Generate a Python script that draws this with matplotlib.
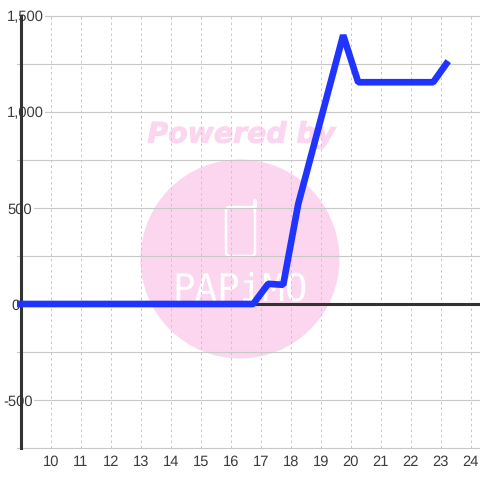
import matplotlib
matplotlib.use("Agg")
import matplotlib.pyplot as plt
import matplotlib.patheffects as pe
from matplotlib.patches import Circle, FancyBboxPatch

hours = [8.75, 16.75, 17.25, 17.75, 18.25, 19.75, 20.25, 22.75, 23.25]
values = [0, 0, 105, 100, 520, 1400, 1155, 1155, 1265]
x_ticks = list(range(10, 25))
y_ticks = [-500, 0, 500, 1000, 1500]
y_labels = ["-500", "0", "500", "1,000", "1,500"]
y_minor = [-750, -250, 250, 750, 1250]

plt.rcParams["font.family"] = ["Liberation Sans", "DejaVu Sans"]
plt.rcParams["text.hinting"] = "no_hinting"
TEXT = "#3c3c3c"
DARK = "#333333"
GRID = "#c8c8c8"
PINK = "#fcd6ee"

fig = plt.figure(figsize=(4.8, 4.8), dpi=100)

# watermark sits behind the chart, drawn in pixel coords
bg = fig.add_axes([0, 0, 1, 1], zorder=0)
bg.set_xlim(0, 480)
bg.set_ylim(480, 0)
bg.axis("off")
bg.add_patch(Circle((240, 259), 99.5, color=PINK, lw=0))
bg.text(241.5, 135, "Powered by", family="DejaVu Sans", weight="bold", style="italic",
        fontsize=20.4, color=PINK, ha="center", va="center",
        path_effects=[pe.withStroke(linewidth=0.7, foreground=PINK)])
bg.add_patch(FancyBboxPatch((226, 207), 29, 49, boxstyle="round,pad=0,rounding_size=4",
                            fc="none", ec="white", lw=1.8))
bg.plot([255, 255], [207, 201], color="white", lw=2.8, solid_capstyle="round")
bg.text(240, 291, "PAPiMO", family="DejaVu Sans Mono", fontsize=27, color="white",
        ha="center", va="center")

ax = fig.add_axes([17 / 480, 32 / 480, 463 / 480, 432 / 480], zorder=1)
ax.patch.set_alpha(0)
ax.set_xlim(8.877, 24.31)
ax.set_ylim(-750, 1500)

for name in ["top", "right", "bottom"]:
    ax.spines[name].set_visible(False)
ax.spines["left"].set_position(("data", 9))
ax.spines["left"].set_color(DARK)
ax.spines["left"].set_linewidth(2.2)
ax.spines["left"].set_zorder(1)

ax.set_axisbelow(True)
ax.set_xticks(x_ticks)
ax.set_yticks(y_ticks, y_labels)
ax.set_yticks(y_minor, minor=True)
ax.grid(axis="y", which="both", color=GRID, lw=0.8, clip_on=False)
ax.grid(axis="x", color=GRID, lw=0.72, ls=(0, (2.5, 3)))
ax.tick_params(which="both", length=0, labelsize=10.6, labelcolor=TEXT)
ax.tick_params(axis="x", pad=5)
for lab in ax.get_yticklabels():
    lab.set_bbox(dict(fc="white", ec="none", pad=1))
pads = {"-500": -8.5, "0": 1, "500": -8.5, "1,000": -16.5, "1,500": -16.5}
for tick, lab in zip(ax.yaxis.get_major_ticks(), y_labels):
    tick.set_pad(pads[lab])
    tick.gridline.set_clip_on(False)
for tick in ax.yaxis.get_minor_ticks():
    tick.gridline.set_clip_on(False)

ax.plot([9, 24.31], [0, 0], color=DARK, lw=2.2, zorder=1.8)
ax.plot(hours, values, color="#1f35ff", lw=4.8, solid_joinstyle="bevel",
        solid_capstyle="butt", zorder=2)

fig.savefig("out.png", dpi=100)
